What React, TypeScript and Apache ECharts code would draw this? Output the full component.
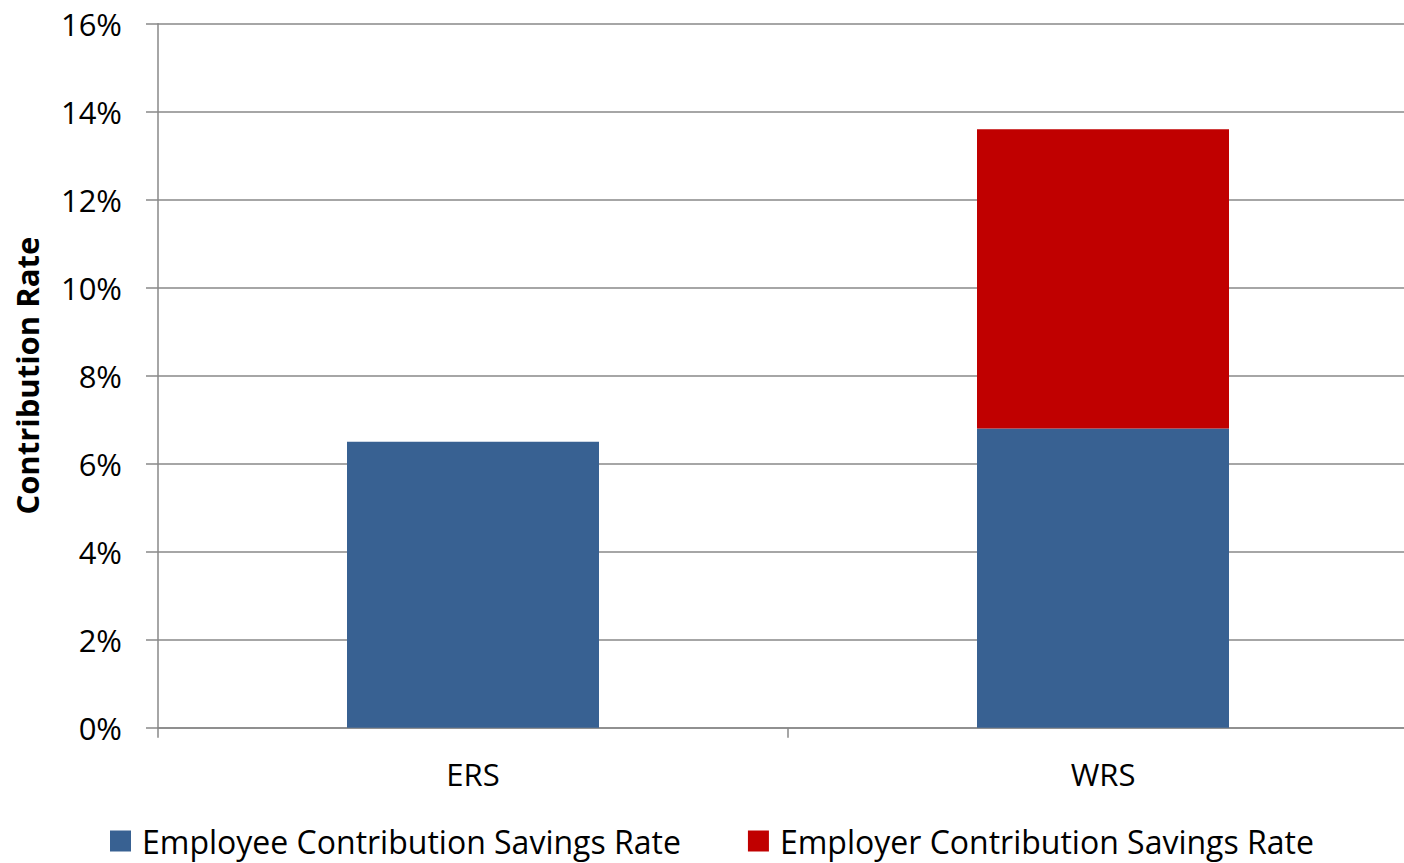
import React, { useEffect, useRef } from "react";
import * as echarts from "echarts";

const categories = ["ERS", "WRS"];
const employeeRates = [6.5, 6.8];
const employerRates = [0, 6.8];
const seriesNames = ["Employee Contribution Savings Rate", "Employer Contribution Savings Rate"];
const yTicks = { min: 0, max: 16, interval: 2 };

const FONT = "Open Sans";

export default function App() {
  const ref = useRef<HTMLDivElement>(null);
  useEffect(() => {
    if (!ref.current) return;
    const chart = echarts.init(ref.current, null, { renderer: "svg" });
    chart.setOption({
      animation: false,
      backgroundColor: "#ffffff",
      textStyle: { fontFamily: FONT },
      grid: {
        left: 158,
        width: 1260,
        top: 23.7,
        height: 704,
        containLabel: false,
        outerBoundsMode: "none",
      },
      legend: {
        data: seriesNames,
        left: 110,
        top: 825,
        padding: 0,
        itemWidth: 21,
        itemHeight: 21,
        itemGap: 67,
        icon: "rect",
        textStyle: {
          fontFamily: FONT,
          fontSize: 32,
          lineHeight: 30,
          color: "#000",
          padding: [0, 0, 0, 6],
        },
        selectedMode: false,
      },
      xAxis: {
        type: "category",
        data: categories,
        axisLine: { lineStyle: { color: "#888888", width: 1.5 } },
        axisTick: { show: true, length: 10, lineStyle: { color: "#888888", width: 1.5 } },
        axisLabel: { fontFamily: FONT, fontSize: 31, color: "#000", margin: 31 },
      },
      yAxis: {
        type: "value",
        min: yTicks.min,
        max: yTicks.max,
        interval: yTicks.interval,
        name: "Contribution Rate",
        nameLocation: "middle",
        nameGap: 116,
        nameTextStyle: { fontFamily: FONT, fontSize: 31, fontWeight: "bold", color: "#000" },
        axisLine: { show: true, lineStyle: { color: "#888888", width: 1.5 } },
        axisTick: { show: true, length: 12, lineStyle: { color: "#888888", width: 1.5 } },
        splitLine: { show: true, lineStyle: { color: "#888888", width: 1.5 } },
        axisLabel: { fontFamily: FONT, fontSize: 31, color: "#000", margin: 36, formatter: "{value}%" },
      },
      series: [
        {
          name: seriesNames[0],
          type: "bar",
          stack: "total",
          barWidth: 252,
          data: employeeRates,
          itemStyle: { color: "#386192" },
        },
        {
          name: seriesNames[1],
          type: "bar",
          stack: "total",
          barWidth: 252,
          data: employerRates,
          itemStyle: { color: "#C00000" },
        },
      ],
    });
    return () => chart.dispose();
  }, []);
  return (
    <div
      ref={ref}
      style={{ position: "fixed", left: 0, top: 0, width: 1404, height: 863 }}
    />
  );
}
